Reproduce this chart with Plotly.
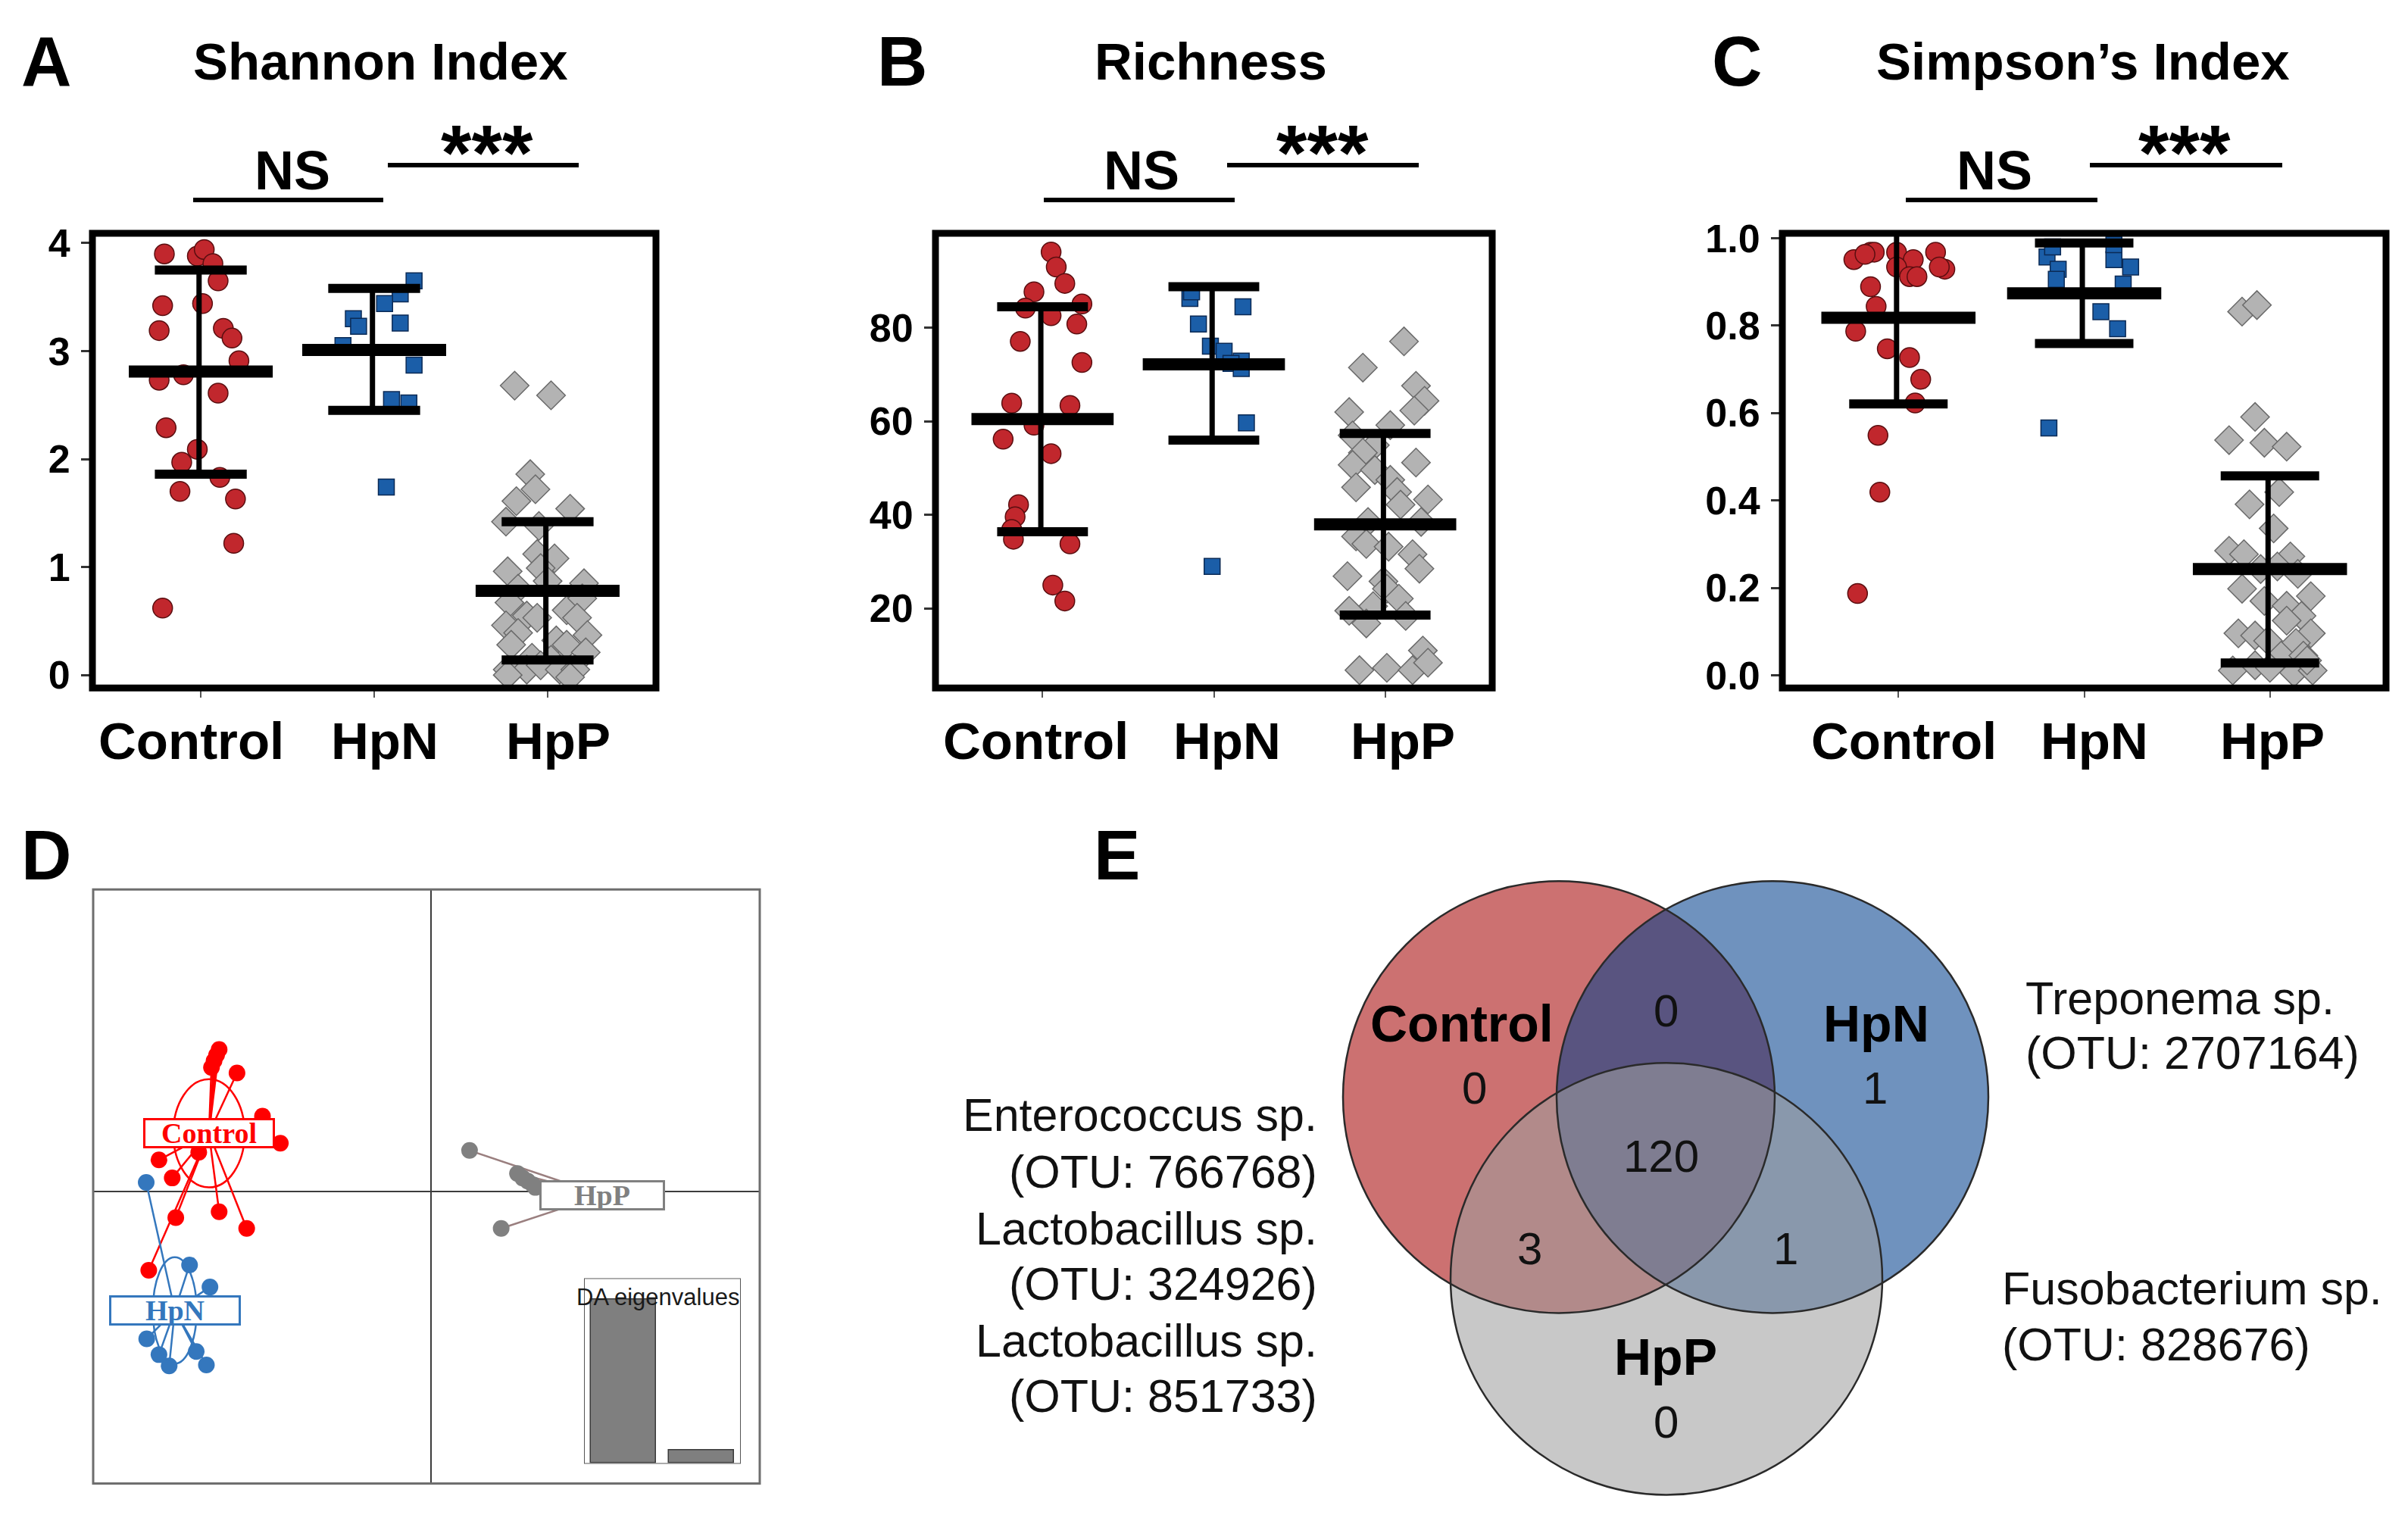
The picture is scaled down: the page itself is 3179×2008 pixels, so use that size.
import plotly.graph_objects as go

W, H = 3179, 2008

groups = ["Control", "HpN", "HpP"]

# ---------------- Panel A: Shannon index ----------------
shannon_control = [3.90, 3.88, 3.94, 3.81, 3.65, 3.42, 3.44, 3.19, 3.21, 3.12, 2.91, 2.73, 2.78, 2.61,
                   2.29, 2.09, 1.97, 1.83, 1.70, 1.63, 1.22, 0.62]
shannon_control_jit = [-0.21, -0.02, 0.02, 0.07, 0.10, -0.22, 0.01, -0.24, 0.13, 0.18, 0.22, -0.24, -0.10,
                       0.10, -0.20, -0.02, -0.11, 0.11, -0.12, 0.20, 0.19, -0.22]
shannon_hpn = [3.65, 3.53, 3.44, 3.30, 3.23, 3.26, 3.05, 2.87, 2.55, 2.52, 1.74]
shannon_hpn_jit = [0.23, 0.15, 0.06, -0.12, -0.09, 0.15, -0.18, 0.23, 0.10, 0.20, 0.07]
shannon_hpp = [2.68, 2.59, 1.86, 1.72, 1.61, 1.54, 1.42, 1.38, 1.12, 1.08, 0.96, 0.99, 0.80, 0.87, 0.85,
               0.67, 0.55, 0.53, 0.60, 0.71, 0.53, 0.46, 0.39, 0.37, 0.28, 0.32, 0.28, 0.21, 0.16, 0.14,
               0.05, 0.05, 0.09, 0.05, 0.05, 0.00, -0.02]
shannon_hpp_jit = [-0.19, 0.02, -0.10, -0.07, -0.18, 0.13, -0.24, -0.05, -0.06, 0.04, -0.23, -0.04, -0.17,
                   0.00, 0.21, -0.22, -0.12, -0.06, 0.11, 0.20, 0.17, -0.24, -0.17, 0.23, -0.21, 0.05,
                   0.11, 0.22, -0.09, 0.02, -0.23, -0.12, -0.04, 0.07, 0.16, -0.23, 0.13]
shannon_mean = [2.81, 3.01, 0.78]
shannon_hi = [3.75, 3.58, 1.42]
shannon_lo = [1.86, 2.45, 0.14]

# ---------------- Panel B: Richness ----------------
rich_control = [96.2, 93.0, 89.5, 87.7, 84.2, 85.1, 82.6, 80.8, 77.1, 72.6, 63.9, 63.4, 59.2, 56.2, 53.1,
                42.2, 39.6, 36.9, 34.8, 33.8, 25.0, 21.6]
rich_control_jit = [0.05, 0.08, 0.13, -0.05, -0.10, 0.23, 0.05, 0.20, -0.13, 0.23, -0.18, 0.16, -0.05,
                    -0.23, 0.05, -0.14, -0.16, -0.18, -0.17, 0.16, 0.06, 0.13]
rich_hpn = [86.3, 87.7, 84.5, 80.8, 76.1, 75.0, 72.9, 72.4, 71.3, 59.7, 29.0]
rich_hpn_jit = [-0.14, -0.13, 0.17, -0.09, -0.02, 0.06, 0.16, 0.10, 0.16, 0.19, -0.01]
rich_hpp = [77.1, 71.5, 67.6, 64.4, 62.3, 62.0, 59.2, 57.0, 54.9, 53.3, 50.7, 51.2, 49.6, 47.5, 45.9,
            44.9, 42.2, 43.3, 38.5, 38.5, 35.4, 33.8, 33.2, 31.6, 28.5, 26.9, 25.8, 24.2, 22.1, 20.5,
            19.5, 18.4, 16.8, 11.0, 6.8, 7.3, 6.8, 8.4]
rich_hpp_jit = [0.11, -0.13, 0.18, 0.23, 0.17, -0.21, 0.03, -0.19, -0.06, -0.13, -0.19, 0.18, -0.06, 0.03,
                -0.17, 0.07, 0.09, 0.25, 0.21, -0.10, -0.17, -0.11, 0.02, 0.16, 0.20, -0.22, -0.01, 0.01,
                0.08, -0.07, -0.21, 0.12, -0.11, 0.22, -0.15, 0.01, 0.16, 0.25]
rich_mean = [60.5, 72.2, 38.0]
rich_hi = [84.5, 88.8, 57.4]
rich_lo = [36.4, 56.0, 18.6]

# ---------------- Panel C: Simpson's index ----------------
simp_control = [0.951, 0.968, 0.968, 0.968, 0.951, 0.968, 0.929, 0.934, 0.912, 0.912, 0.889, 0.844, 0.787,
                0.747, 0.727, 0.677, 0.623, 0.549, 0.419, 0.187, 0.934, 0.963]
simp_control_jit = [-0.24, -0.15, -0.13, -0.01, 0.08, 0.20, 0.25, -0.01, 0.06, 0.10, -0.15, -0.12, -0.23,
                    -0.06, 0.06, 0.12, 0.09, -0.11, -0.10, -0.22, 0.22, -0.18]
simp_hpn = [0.957, 0.929, 0.906, 0.951, 0.934, 0.895, 0.832, 0.793, 0.566, 0.980, 0.985]
simp_hpn_jit = [-0.20, -0.14, -0.15, 0.16, 0.25, 0.21, 0.09, 0.18, -0.19, -0.17, 0.16]
simp_hpp = [0.832, 0.847, 0.591, 0.538, 0.532, 0.523, 0.419, 0.391, 0.336, 0.285, 0.277, 0.272, 0.243,
            0.249, 0.232, 0.198, 0.181, 0.170, 0.159, 0.136, 0.125, 0.096, 0.096, 0.091, 0.079, 0.074,
            0.045, 0.045, 0.011, 0.023, 0.017, 0.006, 0.011, 0.034]
simp_hpp_jit = [-0.15, -0.07, -0.08, -0.22, -0.03, 0.09, 0.05, -0.11, 0.02, -0.22, -0.14, 0.11, -0.05,
                0.04, 0.15, -0.15, 0.22, -0.03, 0.09, 0.17, 0.09, 0.22, -0.17, -0.08, -0.01, 0.14, 0.06,
                0.18, -0.20, -0.08, 0.00, 0.13, 0.23, 0.20]
simp_mean = [0.818, 0.874, 0.243]
simp_hi = [1.015, 0.989, 0.456]
simp_lo = [0.621, 0.759, 0.028]

# ---------------- Panel D: DAPC scatter ----------------
dapc_control_x = [-4.16, -4.21, -4.26, -4.31, -3.81, -3.31, -2.96, -4.56, -5.34, -5.08, -5.01, -4.16, -3.62, -5.54]
dapc_control_y = [3.15, 3.03, 2.90, 2.75, 2.63, 1.67, 1.07, 0.87, 0.70, 0.30, -0.58, -0.45, -0.82, -1.75]
dapc_hpn_x = [-5.59, -4.74, -4.34, -5.58, -5.34, -5.14, -4.61, -4.41]
dapc_hpn_y = [0.20, -1.63, -2.12, -3.27, -3.62, -3.87, -3.55, -3.85]
dapc_hpp_x = [0.75, 1.69, 1.79, 1.89, 1.99, 2.04, 1.37]
dapc_hpp_y = [0.91, 0.40, 0.30, 0.23, 0.15, 0.09, -0.82]
dapc_centroid_x = [-4.36, -5.03, 3.35]
dapc_centroid_y = [1.29, -2.64, -0.08]
dapc_ellipse_rx = [0.70, 0.43, 0.05]
dapc_ellipse_ry = [1.20, 1.18, 0.05]
da_eigenvalues = [34.7, 2.7]

# ---------------- Panel E: Venn ----------------
venn_only = {"Control": 0, "HpN": 1, "HpP": 0}
venn_control_hpn = 0
venn_control_hpp = 3
venn_hpn_hpp = 1
venn_all = 120
species_left = ["Enterococcus sp.", "(OTU: 766768)", "Lactobacillus sp.", "(OTU: 324926)",
                "Lactobacillus sp.", "(OTU: 851733)"]
species_right_top = ["Treponema sp.", "(OTU: 2707164)"]
species_right_bottom = ["Fusobacterium sp.", "(OTU: 828676)"]

# ---------------- helpers (target-pixel -> paper) ----------------
OFF_X, OFF_Y, SY = 8, 34, 0.9828


def px(x):
    return (x - OFF_X) / W


def py(y):
    return 1 - ((y - OFF_Y) / SY) / H


SANS = "Liberation Sans, Arial, Helvetica, sans-serif"
SERIF = "Liberation Serif, Times New Roman, serif"

RED = "#C1272D"
RED_EDGE = "#5A0E10"
BLUE = "#1B5EA8"
BLUE_EDGE = "#0B2A55"
GRAY = "#B3B3B3"
GRAY_EDGE = "#6A6A6A"

fig = go.Figure()

panels = [
    dict(ax="", box=(122, 866), yr=[-0.12, 4.09], tv=[0, 1, 2, 3, 4], tt=["0", "1", "2", "3", "4"],
         data=[(shannon_control, shannon_control_jit), (shannon_hpn, shannon_hpn_jit),
               (shannon_hpp, shannon_hpp_jit)],
         mean=shannon_mean, hi=shannon_hi, lo=shannon_lo, title="Shannon Index", letter="A",
         letter_x=61, title_x=502, ns=(255, 506, 386), st=(512, 764, 643), lab_x=(252, 508, 737)),
    dict(ax="2", box=(1235, 1970), yr=[3.0, 100.2], tv=[20, 40, 60, 80], tt=["20", "40", "60", "80"],
         data=[(rich_control, rich_control_jit), (rich_hpn, rich_hpn_jit), (rich_hpp, rich_hpp_jit)],
         mean=rich_mean, hi=rich_hi, lo=rich_lo, title="Richness", letter="B",
         letter_x=1191, title_x=1598, ns=(1378, 1630, 1507), st=(1620, 1873, 1746),
         lab_x=(1367, 1620, 1852)),
    dict(ax="3", box=(2353, 3150), yr=[-0.029, 1.011], tv=[0, 0.2, 0.4, 0.6, 0.8, 1.0],
         tt=["0.0", "0.2", "0.4", "0.6", "0.8", "1.0"],
         data=[(simp_control, simp_control_jit), (simp_hpn, simp_hpn_jit), (simp_hpp, simp_hpp_jit)],
         mean=simp_mean, hi=simp_hi, lo=simp_lo, title="Simpson\u2019s Index", letter="C",
         letter_x=2293, title_x=2750, ns=(2516, 2769, 2633), st=(2759, 3013, 2884),
         lab_x=(2513, 2765, 3000)),
]

styles = [
    dict(symbol="circle", size=26, color=RED, line=dict(color=RED_EDGE, width=1.5)),
    dict(symbol="square", size=21, color=BLUE, line=dict(color=BLUE_EDGE, width=1.5)),
    dict(symbol="diamond", size=29, color=GRAY, line=dict(color=GRAY_EDGE, width=1.5)),
]

annotations = []
shapes = []

for p in panels:
    xa = "x" + p["ax"]
    ya = "y" + p["ax"]
    for gi, ((vals, jit), st) in enumerate(zip(p["data"], styles)):
        fig.add_trace(go.Scatter(x=[gi + 1 + j for j in jit], y=vals, mode="markers",
                                 marker=st, xaxis=xa, yaxis=ya, showlegend=False, cliponaxis=True))
    mx, my, sx, sy, vx, vy = [], [], [], [], [], []
    for gi in range(3):
        c = gi + 1
        mx += [c - 0.415, c + 0.415, None]
        my += [p["mean"][gi], p["mean"][gi], None]
        for v in (p["hi"][gi], p["lo"][gi]):
            sx += [c - 0.265, c + 0.265, None]
            sy += [v, v, None]
        vx += [c - 0.01, c - 0.01, None]
        vy += [p["lo"][gi], p["hi"][gi], None]
    fig.add_trace(go.Scatter(x=vx, y=vy, mode="lines", line=dict(color="black", width=7),
                             xaxis=xa, yaxis=ya, showlegend=False))
    fig.add_trace(go.Scatter(x=sx, y=sy, mode="lines", line=dict(color="black", width=12),
                             xaxis=xa, yaxis=ya, showlegend=False))
    fig.add_trace(go.Scatter(x=mx, y=my, mode="lines", line=dict(color="black", width=16),
                             xaxis=xa, yaxis=ya, showlegend=False))
    shapes.append(dict(type="rect", xref=xa + " domain", yref=ya + " domain", x0=0, x1=1, y0=0, y1=1,
                       line=dict(color="black", width=9), layer="above"))
    annotations.append(dict(x=px(p["letter_x"]), y=py(85), xref="paper", yref="paper", text=p["letter"],
                            showarrow=False, font=dict(family=SANS, size=92, color="black", weight="bold"),
                            xanchor="center", yanchor="middle"))
    annotations.append(dict(x=px(p["title_x"]), y=py(85), xref="paper", yref="paper", text=p["title"],
                            showarrow=False, font=dict(family=SANS, size=69, color="black", weight="bold"),
                            xanchor="center", yanchor="middle"))
    for gi, lx in enumerate(p["lab_x"]):
        annotations.append(dict(x=px(lx), y=py(982), xref="paper", yref="paper", text=groups[gi],
                                showarrow=False,
                                font=dict(family=SANS, size=69, color="black", weight="bold"),
                                xanchor="center", yanchor="middle"))
    ns0, ns1, nsc = p["ns"]
    st0, st1, stc = p["st"]
    shapes.append(dict(type="line", xref="paper", yref="paper", x0=px(ns0), x1=px(ns1), y0=py(268),
                       y1=py(268), line=dict(color="black", width=6)))
    shapes.append(dict(type="line", xref="paper", yref="paper", x0=px(st0), x1=px(st1), y0=py(222),
                       y1=py(222), line=dict(color="black", width=6)))
    annotations.append(dict(x=px(nsc), y=py(229), xref="paper", yref="paper", text="NS", showarrow=False,
                            font=dict(family=SANS, size=72, color="black", weight="bold"),
                            xanchor="center", yanchor="middle"))
    annotations.append(dict(x=px(stc), y=py(206), xref="paper", yref="paper", text="***", showarrow=False,
                            font=dict(family=SANS, size=104, color="black", weight="bold"),
                            xanchor="center", yanchor="middle"))

layout_axes = {}
for p in panels:
    xk = "xaxis" + p["ax"]
    yk = "yaxis" + p["ax"]
    layout_axes[xk] = dict(domain=[px(p["box"][0]), px(p["box"][1])], range=[0.375, 3.625],
                           anchor="y" + p["ax"], tickvals=[1, 2, 3], showticklabels=False,
                           ticks="outside", ticklen=12, tickwidth=2, tickcolor="#555",
                           showgrid=False, zeroline=False, showline=False, fixedrange=True)
    layout_axes[yk] = dict(domain=[py(912), py(312)], range=p["yr"], anchor="x" + p["ax"],
                           tickvals=p["tv"], ticktext=p["tt"], ticks="outside", ticklen=14, tickwidth=3,
                           tickcolor="#333",
                           tickfont=dict(family=SANS, size=52, color="black", weight="bold"),
                           ticklabelstandoff=4,
                           showgrid=False, zeroline=False, showline=False, fixedrange=True)

# ---------------- Panel D ----------------
d_colors = ["#FF0000", "#3477BD", "#808080"]
d_line_colors = ["#FF0000", "#3477BD", "#9A7F7F"]
d_sets = [(dapc_control_x, dapc_control_y), (dapc_hpn_x, dapc_hpn_y), (dapc_hpp_x, dapc_hpp_y)]
for gi, (xs, ys) in enumerate(d_sets):
    lx, ly = [], []
    for x, y in zip(xs, ys):
        lx += [dapc_centroid_x[gi], x, None]
        ly += [dapc_centroid_y[gi], y, None]
    fig.add_trace(go.Scatter(x=lx, y=ly, mode="lines", line=dict(color=d_line_colors[gi], width=2.5),
                             xaxis="x4", yaxis="y4", showlegend=False))
    fig.add_trace(go.Scatter(x=xs, y=ys, mode="markers",
                             marker=dict(color=d_colors[gi], size=22, line=dict(width=0)),
                             xaxis="x4", yaxis="y4", showlegend=False))
    shapes.append(dict(type="circle", xref="x4", yref="y4",
                       x0=dapc_centroid_x[gi] - dapc_ellipse_rx[gi], x1=dapc_centroid_x[gi] + dapc_ellipse_rx[gi],
                       y0=dapc_centroid_y[gi] - dapc_ellipse_ry[gi], y1=dapc_centroid_y[gi] + dapc_ellipse_ry[gi],
                       line=dict(color=d_colors[gi], width=2.5), layer="above"))
    annotations.append(dict(x=dapc_centroid_x[gi], y=dapc_centroid_y[gi], xref="x4", yref="y4",
                            text=groups[gi], showarrow=False,
                            font=dict(family=SERIF, size=38, color=d_colors[gi], weight="bold"),
                            bgcolor="white", bordercolor=d_colors[gi], borderwidth=3, borderpad=0,
                            width=168 if gi < 2 else 160, height=34, xanchor="center", yanchor="middle"))

shapes.append(dict(type="rect", xref="x4 domain", yref="y4 domain", x0=0, x1=1, y0=0, y1=1,
                   line=dict(color="#6E6E6E", width=3), layer="above"))

layout_axes["xaxis4"] = dict(domain=[px(123), px(1003)], range=[-6.63, 6.44], anchor="y4",
                             showticklabels=False, ticks="", showgrid=False, zeroline=True,
                             zerolinecolor="#3C3C3C", zerolinewidth=2, showline=False, fixedrange=True)
layout_axes["yaxis4"] = dict(domain=[py(1962), py(1178)], range=[-6.48, 6.70], anchor="x4",
                             showticklabels=False, ticks="", showgrid=False, zeroline=True,
                             zerolinecolor="#3C3C3C", zerolinewidth=2, showline=False, fixedrange=True)

fig.add_trace(go.Bar(x=[0, 1], y=da_eigenvalues, width=0.83, marker=dict(color="#7F7F7F",
                     line=dict(color="#3A3A3A", width=1.5)), xaxis="x5", yaxis="y5", showlegend=False))
layout_axes["xaxis5"] = dict(domain=[px(772), px(977)], range=[-0.497, 1.497], anchor="y5",
                             showticklabels=False, ticks="", showgrid=False, zeroline=False,
                             showline=False, fixedrange=True)
layout_axes["yaxis5"] = dict(domain=[py(1935), py(1692)], range=[0, 39.0], anchor="x5",
                             showticklabels=False, ticks="", showgrid=False, zeroline=False,
                             showline=False, fixedrange=True)
shapes.append(dict(type="rect", xref="x5 domain", yref="y5 domain", x0=0, x1=1, y0=0, y1=1,
                   fillcolor="rgba(0,0,0,0)", line=dict(color="#555555", width=2), layer="below"))
annotations.append(dict(x=px(868), y=py(1716), xref="paper", yref="paper", text="DA eigenvalues",
                        showarrow=False, font=dict(family=SANS, size=31, color="#1A1A1A"),
                        xanchor="center", yanchor="middle"))
annotations.append(dict(x=px(61), y=py(1133), xref="paper", yref="paper", text="D", showarrow=False,
                        font=dict(family=SANS, size=92, color="black", weight="bold"),
                        xanchor="center", yanchor="middle"))

# ---------------- Panel E: Venn ----------------
venn_circles = [
    ("Control", 2058, 1452, "rgb(165,4,4)"),
    ("HpN", 2340, 1452, "rgb(0,62,140)"),
    ("HpP", 2200, 1692, "rgb(158,158,158)"),
]
R = 285
for name, cx, cy, col in venn_circles:
    shapes.append(dict(type="circle", xref="paper", yref="paper", x0=px(cx - R), x1=px(cx + R),
                       y0=py(cy + R), y1=py(cy - R), fillcolor=col, opacity=0.566,
                       line=dict(width=0), layer="above"))
for name, cx, cy, col in venn_circles:
    shapes.append(dict(type="circle", xref="paper", yref="paper", x0=px(cx - R), x1=px(cx + R),
                       y0=py(cy + R), y1=py(cy - R), fillcolor="rgba(0,0,0,0)",
                       line=dict(color="#2A2A2A", width=2.5), layer="above"))

annotations.append(dict(x=px(1474), y=py(1133), xref="paper", yref="paper", text="E", showarrow=False,
                        font=dict(family=SANS, size=92, color="black", weight="bold"),
                        xanchor="center", yanchor="middle"))

venn_labels = [("Control", 1930, 1355), ("HpN", 2477, 1355), ("HpP", 2199, 1795)]
for t, x, y in venn_labels:
    annotations.append(dict(x=px(x), y=py(y), xref="paper", yref="paper", text=t, showarrow=False,
                            font=dict(family=SANS, size=68, color="black", weight="bold"),
                            xanchor="center", yanchor="middle"))

venn_counts = [
    (venn_only["Control"], 1946, 1440),
    (venn_control_hpn, 2199, 1338),
    (venn_only["HpN"], 2475, 1440),
    (venn_all, 2193, 1530),
    (venn_control_hpp, 2019, 1652),
    (venn_hpn_hpp, 2357, 1652),
    (venn_only["HpP"], 2199, 1881),
]
for v, x, y in venn_counts:
    annotations.append(dict(x=px(x), y=py(y), xref="paper", yref="paper", text=str(v), showarrow=False,
                            font=dict(family=SANS, size=60, color="#111111"),
                            xanchor="center", yanchor="middle"))

left_y = [1476, 1551, 1626, 1699, 1774, 1847]
for t, y in zip(species_left, left_y):
    annotations.append(dict(x=px(1741), y=py(y), xref="paper", yref="paper", text=t, showarrow=False,
                            font=dict(family=SANS, size=61, color="#111111"),
                            xanchor="right", yanchor="middle"))
for t, y in zip(species_right_top, [1322, 1394]):
    annotations.append(dict(x=px(2672), y=py(y), xref="paper", yref="paper", text=t, showarrow=False,
                            font=dict(family=SANS, size=61, color="#111111"),
                            xanchor="left", yanchor="middle"))
for t, y in zip(species_right_bottom, [1705, 1779]):
    annotations.append(dict(x=px(2641), y=py(y), xref="paper", yref="paper", text=t, showarrow=False,
                            font=dict(family=SANS, size=61, color="#111111"),
                            xanchor="left", yanchor="middle"))

fig.update_layout(width=W, height=H, margin=dict(l=0, r=0, t=0, b=0), paper_bgcolor="white",
                  plot_bgcolor="white", showlegend=False, shapes=shapes, annotations=annotations,
                  bargap=0, **layout_axes)

fig.write_html("out.html")
